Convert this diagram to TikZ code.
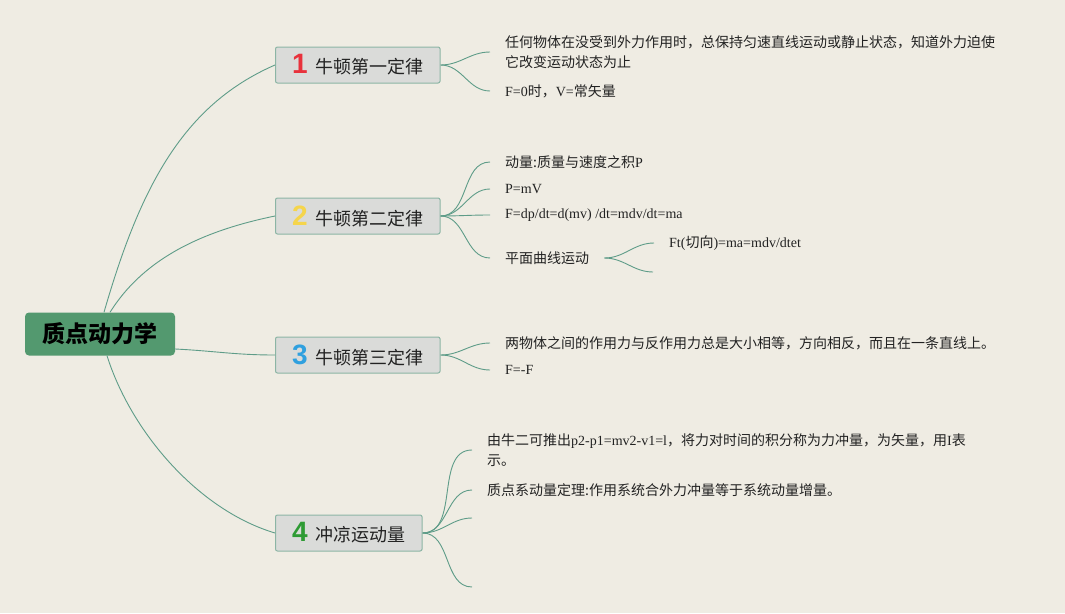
\documentclass[tikz,border=0pt]{standalone}
\usepackage{fontspec}
\setmainfont{Liberation Serif}
\newfontfamily\zhfont{Noto Sans CJK SC}
\newfontfamily\numfont{Liberation Sans}
\newcommand{\zh}[1]{{\zhfont #1}}
\usetikzlibrary{positioning, calc}
\definecolor{bgcol}{HTML}{EFECE3}
\definecolor{rootcol}{HTML}{53996F}
\definecolor{boxfill}{HTML}{DADBD9}
\definecolor{boxline}{HTML}{8CB5A5}
\definecolor{linecol}{HTML}{5E9C88}
\definecolor{textcol}{HTML}{222222}
\definecolor{numred}{HTML}{E8323C}
\definecolor{numyellow}{HTML}{F5D54C}
\definecolor{numblue}{HTML}{2FA0DF}
\definecolor{numgreen}{HTML}{2E9B34}

\begin{document}
\begin{tikzpicture}[x=1pt, y=-1pt,
    root/.style={fill=rootcol, rounded corners=4pt, minimum width=150pt, minimum height=43pt,
        font=\zhfont\bfseries\fontsize{23}{23}\selectfont, text=black},
    topic/.style={draw=boxline, fill=boxfill, rounded corners=2pt, line width=1pt,
        minimum height=36pt, inner xsep=16.5pt, inner ysep=0pt,
        font=\zhfont\fontsize{18}{18}\selectfont, text=textcol},
    leaf/.style={anchor=west, inner sep=0pt, align=left, text=textcol,
        font=\fontsize{14}{20}\selectfont},
    branch/.style={draw=linecol, line width=0.9pt}]
    % Background and margins
    \fill[bgcol] (0,0) rectangle (1065,613);
    \useasboundingbox (0,0) rectangle (1065,613);

    % Central topic
    \node[root] (root) at (100,334) {质点动力学};

    % Main topics
    \foreach \n/\y/\c/\t in {1/65/numred/牛顿第一定律, 2/216/numyellow/牛顿第二定律,
        3/355/numblue/牛顿第三定律, 4/533/numgreen/冲凉运动量}
        \node[topic, anchor=west] (b\n) at (275,\y)
            {{\numfont\bfseries\fontsize{28}{28}\selectfont\color{\c}\n}\hspace{8pt}\t};

    % Links from the centre
    \draw[branch] ($(root.north)+(4,0)$) .. controls +(36,-125) and +(-92,40) .. (b1.west);
    \draw[branch] ($(root.north)+(10,0)$) .. controls +(32,-51) and +(-78,16) .. (b2.west);
    \draw[branch] ($(root.east)+(0,15)$) .. controls +(40,2) and +(-40,0) .. (b3.west);
    \draw[branch] ($(root.south)+(7,0)$) .. controls +(24,76) and +(-77,-23) .. (b4.west);

    % First law
    \node[leaf] (n11) at (505,52) {\zh{任何物体在没受到外力作用时，总保持匀速直线运动或静止状态，知道外力迫使}\\
        \zh{它改变运动状态为止}};
    \node[leaf] (n12) at (505,91) {F=0\zh{时，}V=\zh{常矢量}};
    \foreach \k in {n11,n12}
        \draw[branch] (b1.east) to[out=0,in=180] ([xshift=-15pt]\k.west);

    % Second law
    \node[leaf] (n21) at (505,162) {\zh{动量:质量与速度之积}P};
    \node[leaf] (n22) at (505,189) {P=mV};
    \node[leaf] (n23) at (505,215) {F=dp/dt=d(mv) /dt=mdv/dt=ma};
    \node[leaf] (n24) at (505,258) {\zh{平面曲线运动}};
    \foreach \k in {n21,n22,n23,n24}
        \draw[branch] (b2.east) to[out=0,in=180] ([xshift=-15pt]\k.west);
    \node[leaf] (n25) at (669,243) {Ft(\zh{切向})=ma=mdv/dtet};
    \coordinate (e21) at (653,272);
    \draw[branch] ([xshift=15pt]n24.east) to[out=0,in=180] ([xshift=-15pt]n25.west);
    \draw[branch] ([xshift=15pt]n24.east) to[out=0,in=180] (e21);

    % Third law
    \node[leaf] (n31) at (505,343) {\zh{两物体之间的作用力与反作用力总是大小相等，方向相反，而且在一条直线上。}};
    \node[leaf] (n32) at (505,370) {F=-F};
    \foreach \k in {n31,n32}
        \draw[branch] (b3.east) to[out=0,in=180] ([xshift=-15pt]\k.west);

    % Impulse
    \node[leaf] (n41) at (487,450) {\zh{由牛二可推出}p2-p1=mv2-v1=l\zh{，将力对时间的积分称为力冲量，为矢量，用}I\zh{表}\\
        \zh{示。}};
    \node[leaf] (n42) at (487,490) {\zh{质点系动量定理:作用系统合外力冲量等于系统动量增量。}};
    \coordinate (e41) at (472,518);
    \coordinate (e42) at (472,587);
    \foreach \k in {n41,n42}
        \draw[branch] (b4.east) to[out=0,in=180] ([xshift=-15pt]\k.west);
    \draw[branch] (b4.east) to[out=0,in=180] (e41);
    \draw[branch] (b4.east) to[out=0,in=180] (e42);
\end{tikzpicture}
\end{document}
